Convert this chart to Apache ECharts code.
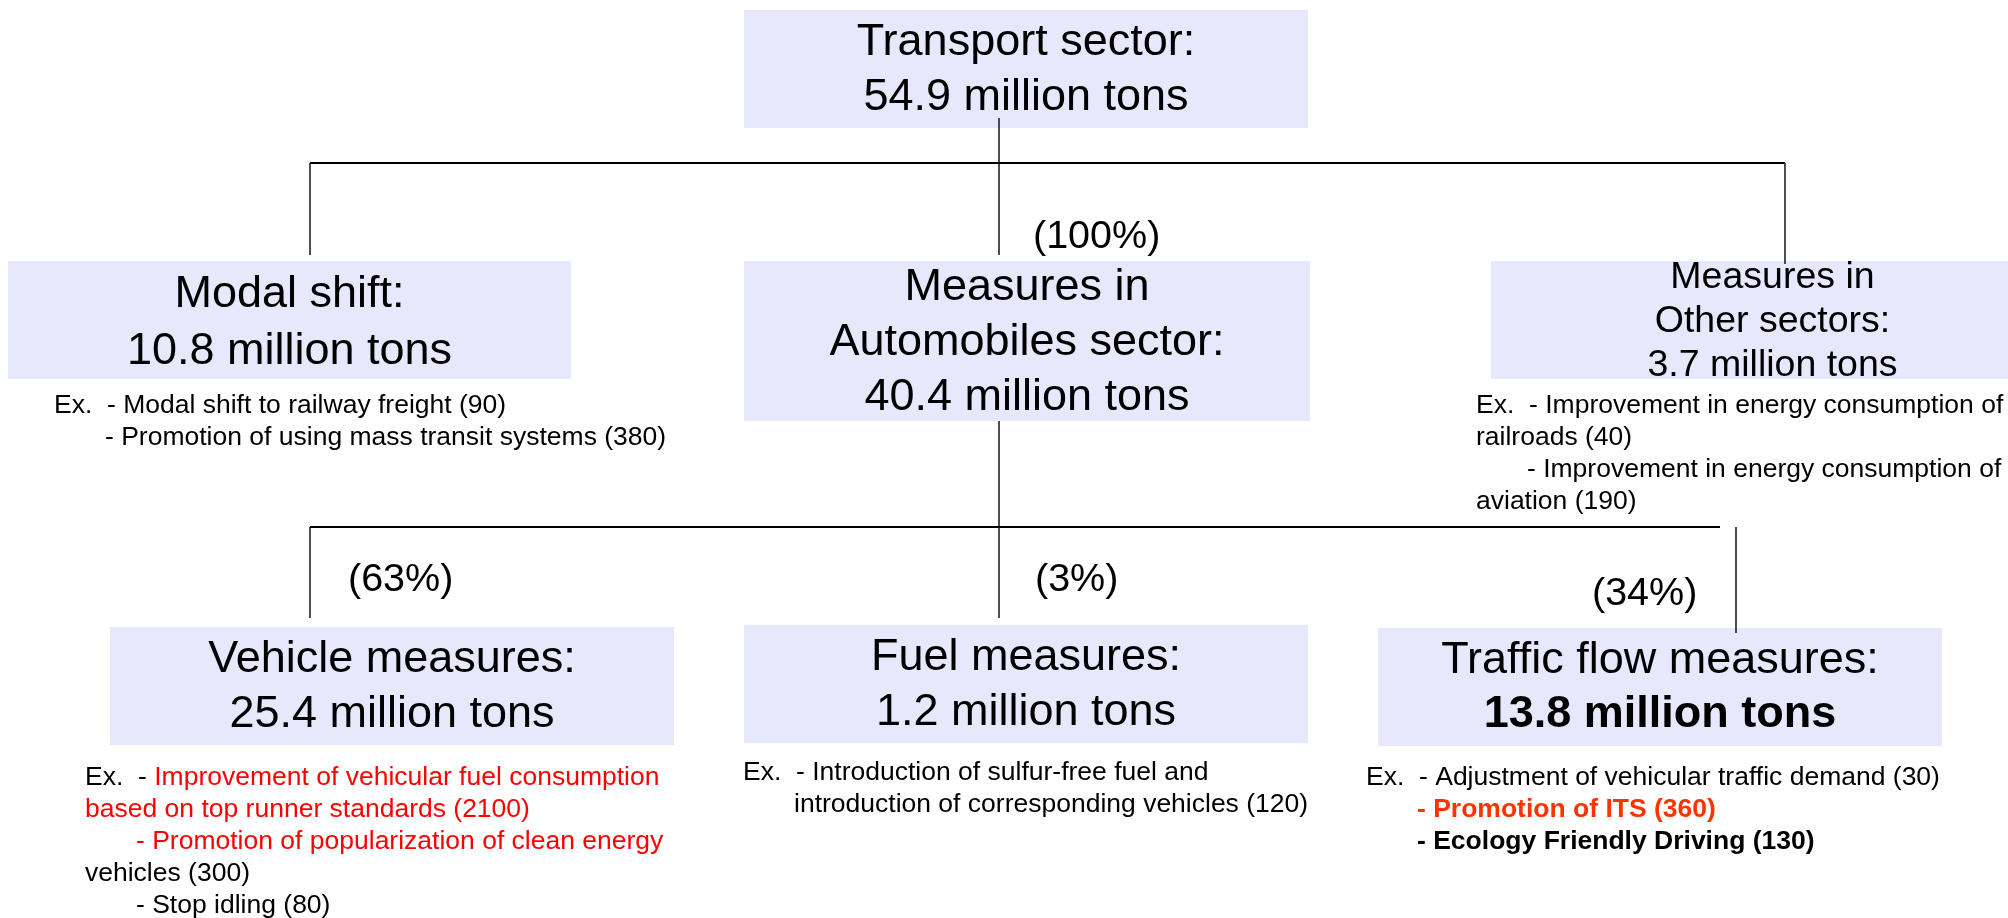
<!DOCTYPE html>
<html>
<head>
<meta charset="utf-8">
<script src="https://cdn.jsdelivr.net/npm/echarts@6/dist/echarts.min.js"></script>
<style>
  html, body { margin: 0; padding: 0; background: #fff; }
  #chart { width: 2008px; height: 918px; }
</style>
</head>
<body>
<div id="chart"></div>
<script>
// content of the diagram
const nodeTitles = [
  'Transport sector:',
  'Modal shift:',
  'Measures in\nAutomobiles sector:',
  'Measures in\nOther sectors:',
  'Vehicle measures:',
  'Fuel measures:',
  'Traffic flow measures:'
]
const nodeTons = [54.9, 10.8, 40.4, 3.7, 25.4, 1.2, 13.8]
const shareLabels = ['(100%)', '(63%)', '(3%)', '(34%)']

// "\t" = indented line, {red|..} {its|..} {bold|..} = highlighted text
const modalExamples = [
  'Ex.  - Modal shift to railway freight (90)',
  '\t- Promotion of using mass transit systems (380)'
]
const otherExamples = [
  'Ex.  - Improvement in energy consumption of',
  'railroads (40)',
  '\t- Improvement in energy consumption of',
  'aviation (190)'
]
const vehicleExamples = [
  'Ex.  - {red|Improvement of vehicular fuel consumption}',
  '{red|based on top runner standards (2100)}',
  '\t{red|- Promotion of popularization of clean energy}',
  'vehicles (300)',
  '\t- Stop idling (80)'
]
const fuelExamples = [
  'Ex.  - Introduction of sulfur-free fuel and',
  '\tintroduction of corresponding vehicles (120)'
]
const trafficExamples = [
  'Ex.  - Adjustment of vehicular traffic demand (30)',
  '\t{its|- Promotion of ITS (360)}',
  '\t{bold|- Ecology Friendly Driving (130)}'
]

// layout (diagram units = pixels of the 2008x918 page)
const FONT = '"Liberation Sans", Arial, sans-serif'
const BOX_FILL = '#e8e8fd'
const boxLayout = [
  { x0: 744, y0: 10, x1: 1308, y1: 128, fs: 45, lh: 55, dy: 1 },
  { x0: 8, y0: 261, x1: 571, y1: 379, fs: 45, lh: 57, dy: 3 },
  { x0: 744, y0: 261, x1: 1310, y1: 421, fs: 45, lh: 55, dy: 2 },
  { x0: 1491, y0: 261, x1: 2054, y1: 379, fs: 37.5, lh: 44, dy: 2 },
  { x0: 110, y0: 627, x1: 674, y1: 745, fs: 45, lh: 55, dy: 1 },
  { x0: 744, y0: 625, x1: 1308, y1: 743, fs: 45, lh: 55, dy: 1 },
  { x0: 1378, y0: 628, x1: 1942, y1: 746, fs: 45, lh: 54, dy: 1, bold: true }
]
const connectorPaths = [
  [[999, 118], [999, 255]],
  [[310, 255], [310, 163], [1785, 163], [1785, 264]],
  [[999, 421], [999, 618]],
  [[310, 618], [310, 527], [1720, 527]],
  [[1736, 527], [1736, 633]]
]
const shareAnchors = [[1033, 237], [348, 580], [1035, 580], [1592, 594]]
const exampleAnchors = [
  { lines: modalExamples, x: 54, y: 406 },
  { lines: otherExamples, x: 1476, y: 406 },
  { lines: vehicleExamples, x: 85, y: 778 },
  { lines: fuelExamples, x: 743, y: 773 },
  { lines: trafficExamples, x: 1366, y: 778 }
]
const EX_FS = 26.5
const EX_LINE = 32
const EX_INDENT = 51

const boxData = boxLayout.map((b, i) => [b.x0, b.y0, b.x1, b.y1, i])
const segData = []
connectorPaths.forEach(path => {
  for (let k = 1; k < path.length; k++) {
    segData.push([path[k - 1][0], path[k - 1][1], path[k][0], path[k][1]])
  }
})
const shareData = shareAnchors.map((p, i) => [p[0], p[1], i])
const exData = []
exampleAnchors.forEach((blk, b) => {
  blk.lines.forEach((line, k) => {
    const indent = line.charAt(0) === '\t' ? EX_INDENT : 0
    exData.push([blk.x + indent, blk.y + k * EX_LINE, b, k])
  })
})

function txt(size, weight, color) {
  return { fontSize: size, fontFamily: FONT, fontWeight: weight || 'normal', fill: color || '#000' }
}

const chart = echarts.init(document.getElementById('chart'))
chart.setOption({
  animation: false,
  grid: { left: 0, right: 0, top: 0, bottom: 0 },
  xAxis: { type: 'value', min: 0, max: 2008, show: false },
  yAxis: { type: 'value', min: 0, max: 918, inverse: true, show: false },
  series: [{
    type: 'custom',
    z: 1,
    data: boxData,
    encode: { x: [0, 2], y: [1, 3] },
    renderItem: function (params, api) {
      const i = api.value(4)
      const L = boxLayout[i]
      const p0 = api.coord([api.value(0), api.value(1)])
      const p1 = api.coord([api.value(2), api.value(3)])
      const tons = nodeTons[i].toFixed(1) + ' million tons'
      const base = txt(L.fs)
      return {
        type: 'group',
        children: [{
          type: 'rect',
          shape: { x: p0[0], y: p0[1], width: p1[0] - p0[0], height: p1[1] - p0[1] },
          style: { fill: BOX_FILL }
        }, {
          type: 'text',
          z2: 5,
          style: Object.assign({}, base, {
            x: (p0[0] + p1[0]) / 2,
            y: (p0[1] + p1[1]) / 2 + L.dy,
            text: nodeTitles[i] + '\n{t|' + tons + '}',
            align: 'center',
            verticalAlign: 'middle',
            lineHeight: L.lh,
            rich: {
              t: Object.assign(txt(L.fs, L.bold ? 'bold' : 'normal'), { lineHeight: L.lh })
            }
          })
        }]
      }
    }
  }, {
    type: 'custom',
    z: 2,
    data: segData,
    encode: { x: [0, 2], y: [1, 3] },
    renderItem: function (params, api) {
      const a = api.coord([api.value(0), api.value(1)])
      const b = api.coord([api.value(2), api.value(3)])
      const horizontal = api.value(1) === api.value(3)
      return {
        type: 'line',
        shape: { x1: a[0], y1: a[1], x2: b[0], y2: b[1] },
        style: { stroke: horizontal ? '#000' : '#222', lineWidth: horizontal ? 2 : 1.6 }
      }
    }
  }, {
    type: 'custom',
    z: 3,
    data: shareData,
    encode: { x: 0, y: 1 },
    renderItem: function (params, api) {
      const p = api.coord([api.value(0), api.value(1)])
      return {
        type: 'text',
        style: Object.assign(txt(39.5), {
          x: p[0], y: p[1],
          text: shareLabels[api.value(2)],
          align: 'left',
          verticalAlign: 'middle'
        })
      }
    }
  }, {
    type: 'custom',
    z: 3,
    data: exData,
    encode: { x: 0, y: 1 },
    renderItem: function (params, api) {
      const p = api.coord([api.value(0), api.value(1)])
      const line = exampleAnchors[api.value(2)].lines[api.value(3)].replace(/^\t/, '')
      return {
        type: 'text',
        style: Object.assign(txt(EX_FS), {
          x: p[0], y: p[1],
          text: line,
          align: 'left',
          verticalAlign: 'middle',
          rich: {
            red: txt(EX_FS, 'normal', '#ff0000'),
            its: txt(EX_FS, 'bold', '#ff3300'),
            bold: txt(EX_FS, 'bold', '#000')
          }
        })
      }
    }
  }]
})
</script>
</body>
</html>
